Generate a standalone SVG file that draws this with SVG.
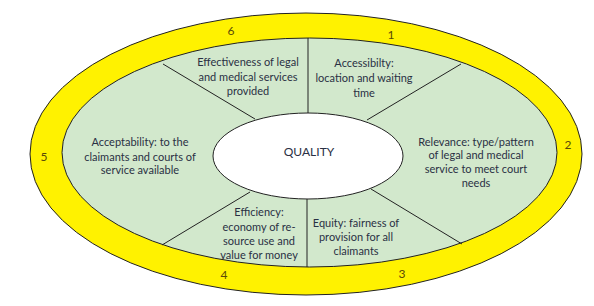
<svg xmlns="http://www.w3.org/2000/svg" width="594" height="306" viewBox="0 0 594 306">
<style>
.t{font-family:Lato,"Open Sans","Liberation Sans",sans-serif;font-size:11px;fill:#2a3044;text-anchor:middle}
.q{font-family:Lato,"Open Sans","Liberation Sans",sans-serif;font-size:12px;fill:#2a3044;text-anchor:middle}
.n{font-family:Lato,"Open Sans","Liberation Sans",sans-serif;font-size:12px;fill:#5a4a08;text-anchor:middle}
.ln{stroke:#222;stroke-width:1;fill:none}
</style>
<rect width="594" height="306" fill="#fff"/>
<g id="ring">
<ellipse cx="306" cy="154" rx="276" ry="141" fill="#fff200" stroke="#222" stroke-width="1"/>
<ellipse cx="309.5" cy="152.5" rx="247.5" ry="114.5" fill="#d2e8cc" stroke="#222" stroke-width="1"/>
</g>
<g id="connectors">
<line class="ln" x1="308" y1="38" x2="308" y2="113"/>
<line class="ln" x1="461" y1="64" x2="367" y2="120"/>
<line class="ln" x1="371" y1="189" x2="462" y2="244"/>
<line class="ln" x1="307" y1="199" x2="307" y2="267"/>
<line class="ln" x1="250" y1="192" x2="162" y2="245"/>
<line class="ln" x1="163" y1="64" x2="255" y2="119"/>
</g>
<g id="quality">
<ellipse cx="308" cy="156" rx="95" ry="43" fill="#fff" stroke="#222" stroke-width="1"/>
<text class="q" x="309" y="156">QUALITY</text>
</g>
<g id="seg1">
<text class="t" x="364" y="67">Accessibilty:</text>
<text class="t" x="364" y="82">location and waiting</text>
<text class="t" x="364" y="97">time</text>
<text class="n" x="391" y="39">1</text>
</g>
<g id="seg2">
<text class="t" x="476" y="146">Relevance: type/pattern</text>
<text class="t" x="476" y="159">of legal and medical</text>
<text class="t" x="476" y="173">service to meet court</text>
<text class="t" x="476" y="187">needs</text>
<text class="n" x="568" y="149">2</text>
</g>
<g id="seg3">
<text class="t" x="356" y="227">Equity: fairness of</text>
<text class="t" x="356" y="241">provision for all</text>
<text class="t" x="356" y="255">claimants</text>
<text class="n" x="402" y="278">3</text>
</g>
<g id="seg4">
<text class="t" x="259" y="216">Efficiency:</text>
<text class="t" x="259" y="231">economy of re-</text>
<text class="t" x="259" y="245">source use and</text>
<text class="t" x="259" y="259">value for money</text>
<text class="n" x="224" y="279">4</text>
</g>
<g id="seg5">
<text class="t" x="140" y="146">Acceptability: to the</text>
<text class="t" x="140" y="161">claimants and courts of</text>
<text class="t" x="140" y="174">service available</text>
<text class="n" x="44" y="161">5</text>
</g>
<g id="seg6">
<text class="t" x="248" y="66">Effectiveness of legal</text>
<text class="t" x="248" y="81">and medical services</text>
<text class="t" x="248" y="95">provided</text>
<text class="n" x="231" y="35">6</text>
</g>
</svg>
